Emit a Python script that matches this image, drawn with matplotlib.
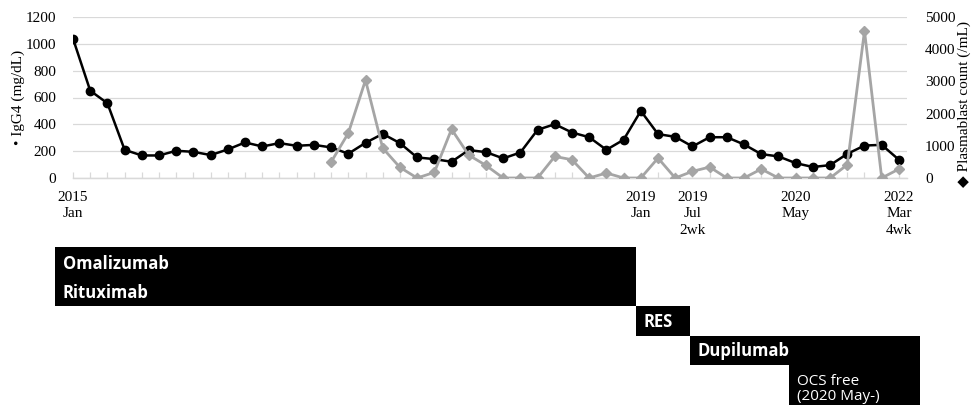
import matplotlib
matplotlib.use('Agg')
import matplotlib.pyplot as plt
import numpy as np

# --- Data ---
igg4 = [1039, 651, 557, 210, 168, 168, 203, 195, 171, 213,
        265, 235, 260, 240, 247, 228, 181, 262, 329, 260,
        153, 141, 121, 208, 193, 146, 190, 359, 401, 339,
        304, 210, 285, 500, 327, 307, 235, 304, 304, 250,
        178, 161, 111, 82, 96, 180, 242, 247, 136]

# plasmablast measurements start at visit 15
plasma_start = 15
plasmablast = [495, 1392, 3041, 928, 330, 0, 175, 1515, 711, 392,
               0, 0, 0, 670, 567, 0, 155, 0, 0, 619,
               0, 206, 340, 0, 0, 278, 0, 0, 0, 0,
               412, 4567, 0, 278]

tick_pos = [0, 33, 36, 42, 48]
tick_text = ['2015\nJan', '2019\nJan', '2019\nJul\n2wk', '2020\nMay', '2022\nMar\n4wk']

# treatment timeline (in visit units)
treat_names = ['Omalizumab\n\nRituximab', 'RES', 'Dupilumab', 'OCS free\n(2020 May-)']
treat_start = [-1.05, 32.72, 35.85, 41.6]
treat_end = [32.72, 35.85, 49.22, 49.22]
treat_row_top = [0, 2, 3, 4]
treat_row_h = [2, 1, 1, 1.4]

# --- Layout (pixels) ---
W, H = 974, 405
AX_L, AX_R, AX_T, AX_B = 73, 907, 17, 178
XMIN, XMAX = 0, 48.47
TL_TOP = 247
ROW_PX = 29.5

GRID = '#d9d9d9'
GRAY = '#a5a5a5'
SERIF = ['Liberation Serif', 'DejaVu Sans']
SANS = 'Open Sans'
FS = 11

fig = plt.figure(figsize=(W / 100, H / 100), dpi=100)
ax = fig.add_axes([AX_L / W, 1 - AX_B / H, (AX_R - AX_L) / W, (AX_B - AX_T) / H])
ax2 = ax.twinx()

x = np.arange(len(igg4))
xp = np.arange(plasma_start, plasma_start + len(plasmablast))

ax.plot(x, igg4, color='black', lw=1.8, marker='o', ms=6, zorder=3)
ax2.plot(xp, plasmablast, color=GRAY, lw=2, marker='D', ms=5, zorder=3)

ax.set_xlim(XMIN, XMAX)
ax.set_ylim(0, 1200)
ax2.set_ylim(0, 5000)
ax.set_yticks(np.arange(0, 1201, 200))
ax2.set_yticks(np.arange(0, 5001, 1000))
ax.grid(axis='y', color=GRID, lw=0.9)
ax.set_axisbelow(True)

labels = [''] * len(igg4)
for p, t in zip(tick_pos, tick_text):
    labels[p] = t
ax.set_xticks(x)
ax.set_xticklabels(labels, family=SERIF, fontsize=FS, linespacing=1.35)
ax.tick_params(axis='x', direction='in', length=4, color=GRID, width=0.9, pad=9)
ax.tick_params(axis='y', length=0, pad=12, labelsize=FS)
ax2.tick_params(axis='y', length=0, pad=13, labelsize=FS)
for lab in ax.get_yticklabels() + ax2.get_yticklabels():
    lab.set_family(SERIF)

for a in (ax, ax2):
    for s in ('top', 'left', 'right'):
        a.spines[s].set_visible(False)
    a.spines['bottom'].set_color(GRID)
    a.spines['bottom'].set_linewidth(0.9)

yc = 1 - (AX_T + AX_B) / 2 / H
fig.text(18 / W, yc, '\u2022 IgG4 (mg/dL)', family=SERIF, fontsize=FS,
         rotation=90, ha='center', va='center')
fig.text(964 / W, yc - 0.015, '\u25c6 Plasmablast count (/mL)', family=SERIF, fontsize=FS,
         rotation=90, ha='center', va='center')

# --- treatment timeline ---
scale = (AX_R - AX_L) / (XMAX - XMIN)
tl = fig.add_axes([0, 0, 1, (H - TL_TOP) / H])
tl.set_xlim(XMIN - AX_L / scale, XMIN + (W - AX_L) / scale)
tl.set_ylim((H - TL_TOP) / ROW_PX, 0)
tl.axis('off')

for i, name in enumerate(treat_names):
    tl.barh(treat_row_top[i], treat_end[i] - treat_start[i], height=treat_row_h[i],
            left=treat_start[i], align='edge', color='black')

# label baselines, in timeline row units
bold = dict(color='white', fontsize=12, fontweight='bold', family=SANS, va='baseline')
tl.text(treat_start[0] + 8 / scale, 0.746, 'Omalizumab', **bold)
tl.text(treat_start[0] + 8 / scale, 1.729, 'Rituximab', **bold)
tl.text(treat_start[1] + 8 / scale, 2.712, 'RES', **bold)
tl.text(treat_start[2] + 8 / scale, 3.695, 'Dupilumab', **bold)
reg = dict(color='white', fontsize=11, family=SANS, va='baseline')
tl.text(treat_start[3] + 8 / scale, 4.678, 'OCS free', **reg)
tl.text(treat_start[3] + 8 / scale, 5.203, '(2020 May-)', **reg)

fig.savefig('out.png', dpi=100)
